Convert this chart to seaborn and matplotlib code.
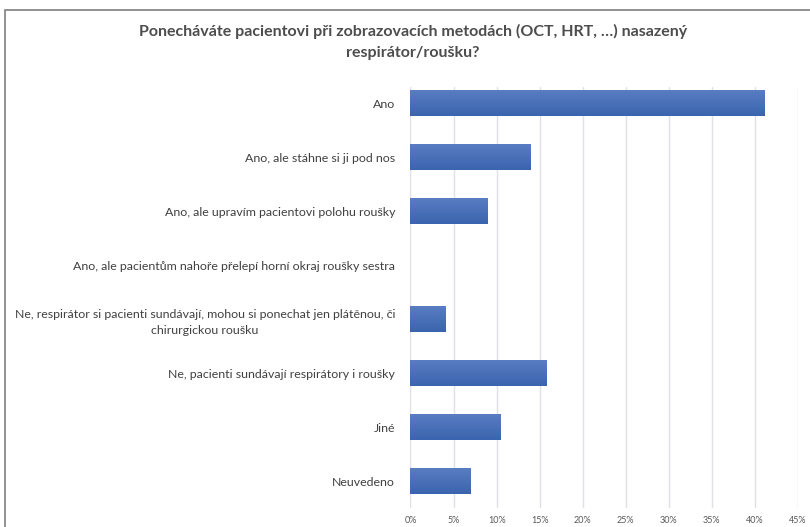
import numpy as np
import pandas as pd
import matplotlib
matplotlib.use("Agg")
import matplotlib.pyplot as plt
from matplotlib.patches import Rectangle
import seaborn as sns

categories = [
    "Ano",
    "Ano, ale stáhne si ji pod nos",
    "Ano, ale upravím pacientovi polohu roušky",
    "Ano, ale pacientům nahoře přelepí horní okraj roušky sestra",
    "Ne, respirátor si pacienti sundávají, mohou si ponechat jen plátěnou, či\nchirurgickou roušku",
    "Ne, pacienti sundávají respirátory i roušky",
    "Jiné",
    "Neuvedeno",
]
shares = [41.2, 14.0, 9.0, 0.0, 4.1, 15.8, 10.5, 7.0]
xticks = [0, 5, 10, 15, 20, 25, 30, 35, 40, 45]
title = "Ponecháváte pacientovi při zobrazovacích metodách (OCT, HRT, …) nasazený\nrespirátor/roušku?"

df = pd.DataFrame({"odpoved": categories, "podil": shares})

sns.set_style("white")
plt.rcParams["font.family"] = ["Lato", "DejaVu Sans"]

fig = plt.figure(figsize=(8.1, 5.27), dpi=100)
W, H = 810, 527
ax = fig.add_axes([410.5 / W, 1 - 508 / H, (798 - 410.5) / W, (508 - 87) / H])

sns.barplot(data=df, x="podil", y="odpoved", orient="h", color="#4a72b8",
            width=0.49, ax=ax, zorder=3)

# excel-like vertical gradient on bars
grad = np.linspace(0, 1, 64).reshape(-1, 1)
cmap = matplotlib.colors.LinearSegmentedColormap.from_list("g", ["#5b7ec3", "#3a64ae"])
for p in ax.patches:
    x0, y0 = p.get_x(), p.get_y()
    w, h = p.get_width(), p.get_height()
    p.set_facecolor("none")
    p.set_edgecolor("none")
    if w <= 0:
        continue
    im = ax.imshow(grad, cmap=cmap, aspect="auto", extent=(x0, x0 + w, y0 + h, y0),
                   zorder=3, interpolation="bilinear")
    im.set_clip_path(p)

ax.set_xlim(0, 45)
ax.set_ylim(7.5, -0.3)
ax.set_xticks(xticks)
ax.set_xticklabels([f"{t}%" for t in xticks])
ax.grid(axis="x", color="#e0e0e6", linewidth=1, zorder=0)
ax.set_axisbelow(True)
for s in ax.spines.values():
    s.set_visible(False)
ax.set_xlabel("")
ax.set_ylabel("")
ax.tick_params(axis="x", labelsize=6.5, colors="#595959", length=0, pad=6)
ax.tick_params(axis="y", labelsize=8.9, colors="#404040", length=0, pad=11)
for lbl in ax.get_yticklabels():
    lbl.set_multialignment("center")
    lbl.set_linespacing(1.6)

fig.text(413 / W, 1 - 42 / H, title, ha="center", va="center", fontsize=11.5,
         fontweight="bold", color="#4d4d4d", linespacing=1.6)

# chart frame, cut off at right and bottom like the screenshot
fig.patches.append(Rectangle((5 / W, -0.05), 1.1, 1 - 10 / H + 0.05,
                             transform=fig.transFigure, fill=False,
                             edgecolor="#7f7f7f", linewidth=1.2))

fig.savefig("out.png", dpi=100)
